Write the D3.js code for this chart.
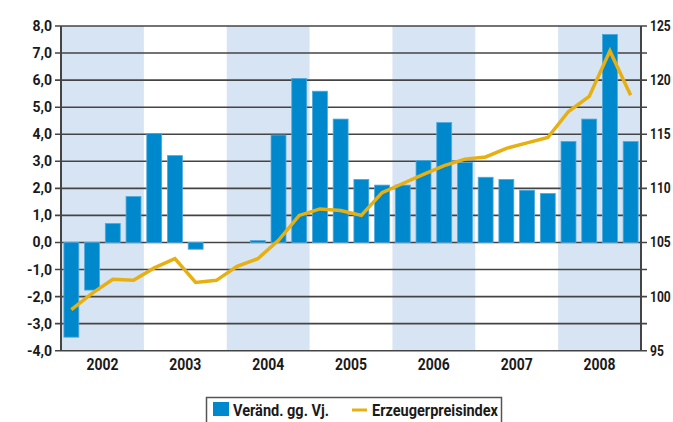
<!DOCTYPE html>
<html>
<head>
<meta charset="utf-8">
<script src="https://cdn.jsdelivr.net/npm/d3@7"></script>
<style>
  html, body { margin: 0; padding: 0; background: #fff; }
  svg { display: block; }
  svg text { font-family: Roboto, "Noto Sans", sans-serif; font-weight: bold; fill: #1a1a1a; }
</style>
</head>
<body>
<svg id="chart" width="673" height="422"></svg>
<script>
// ---- data ----
const years = ["2002", "2003", "2004", "2005", "2006", "2007", "2008"];
const quarters = [
  "2002Q1","2002Q2","2002Q3","2002Q4",
  "2003Q1","2003Q2","2003Q3","2003Q4",
  "2004Q1","2004Q2","2004Q3","2004Q4",
  "2005Q1","2005Q2","2005Q3","2005Q4",
  "2006Q1","2006Q2","2006Q3","2006Q4",
  "2007Q1","2007Q2","2007Q3","2007Q4",
  "2008Q1","2008Q2","2008Q3","2008Q4"
];
// Veränd. gg. Vj. (left axis, %)
const changeValues = [
  -3.5, -1.76, 0.70, 1.70,
  4.03, 3.21, -0.25, null,
  null, 0.07, 3.97, 6.06,
  5.59, 4.56, 2.33, 2.12,
  2.12, 3.03, 4.43, 2.96,
  2.41, 2.33, 1.93, 1.81,
  3.73, 4.56, 7.69, 3.73
];
// Erzeugerpreisindex (right axis)
const indexValues = [
  98.8, 100.3, 101.6, 101.5,
  102.65, 103.5, 101.3, 101.5,
  102.8, 103.5, 105.2, 107.5,
  108.1, 107.96, 107.5, 109.6,
  110.45, 111.3, 112.1, 112.7,
  112.9, 113.7, 114.2, 114.7,
  117.1, 118.5, 122.7, 118.6
];
const leftTicks = [-4, -3, -2, -1, 0, 1, 2, 3, 4, 5, 6, 7, 8];
const rightTicks = [95, 97.5, 100, 102.5, 105, 107.5, 110, 112.5, 115, 117.5, 120, 122.5, 125];
const seriesNames = ["Veränd. gg. Vj.", "Erzeugerpreisindex"];

// ---- layout ----
const svg = d3.select("#chart");
const plot = { left: 61, right: 641, top: 26, bottom: 350.7 };
const barColor = "#0088cc";
const lineColor = "#e6b012";
const bandColor = "#d7e4f4";
const gridColor = "#444";

function squeeze(sel, w) {
  sel.attr("textLength", w).attr("lengthAdjust", "spacingAndGlyphs");
}

const x = d3.scaleBand().domain(quarters).range([plot.left, plot.right])
  .paddingInner(0.28).paddingOuter(0.14);
const xYear = d3.scaleBand().domain(years).range([plot.left, plot.right]);
const yL = d3.scaleLinear().domain([-4, 8]).range([plot.bottom, plot.top]);
const yR = d3.scaleLinear().domain([95, 125]).range([plot.bottom, plot.top]);

// year shading
svg.append("g").selectAll("rect")
  .data(years.filter((d, i) => i % 2 === 0))
  .join("rect")
  .attr("x", d => xYear(d))
  .attr("y", plot.top)
  .attr("width", xYear.bandwidth())
  .attr("height", plot.bottom - plot.top)
  .attr("fill", bandColor);

// gridlines
svg.append("g").selectAll("line")
  .data(leftTicks)
  .join("line")
  .attr("x1", plot.left - 6)
  .attr("x2", plot.right + 6)
  .attr("y1", d => yL(d))
  .attr("y2", d => yL(d))
  .attr("stroke", gridColor)
  .attr("stroke-width", 1.6);

// bars
const barData = quarters.map((q, i) => ({ q, v: changeValues[i] })).filter(d => d.v !== null);
svg.append("g").selectAll("rect")
  .data(barData)
  .join("rect")
  .attr("x", d => x(d.q))
  .attr("width", x.bandwidth())
  .attr("y", d => yL(Math.max(0, d.v)))
  .attr("height", d => Math.abs(yL(d.v) - yL(0)))
  .attr("fill", barColor)
  .attr("stroke", "#4fa9dc")
  .attr("stroke-width", 0.8);

// line
const lineGen = d3.line()
  .x((d, i) => x(quarters[i]) + x.bandwidth() / 2)
  .y(d => yR(d));
svg.append("path")
  .datum(indexValues)
  .attr("d", lineGen)
  .attr("fill", "none")
  .attr("stroke", lineColor)
  .attr("stroke-width", 3.5)
  .attr("stroke-linejoin", "miter");

// left axis
const axL = svg.append("g")
  .attr("transform", `translate(${plot.left},0)`)
  .call(d3.axisLeft(yL).tickValues(leftTicks).tickSize(0).tickPadding(9)
    .tickFormat(d => d.toFixed(1).replace(".", ",")));
axL.select(".domain").remove();
axL.append("line").attr("x1", 0).attr("x2", 0).attr("y1", plot.top).attr("y2", plot.bottom)
  .attr("stroke", gridColor).attr("stroke-width", 2);

// right axis
const axR = svg.append("g")
  .attr("transform", `translate(${plot.right},0)`)
  .call(d3.axisRight(yR).tickValues(rightTicks).tickSize(0).tickPadding(9)
    .tickFormat(d => d % 5 === 0 ? d : ""));
axR.select(".domain").remove();
axR.append("line").attr("x1", 0).attr("x2", 0).attr("y1", plot.top).attr("y2", plot.bottom)
  .attr("stroke", gridColor).attr("stroke-width", 2);
axR.selectAll(".tick text").filter(d => d % 5 === 0)
  .each(function(d) { squeeze(d3.select(this), String(d).length * 6.9); });

// bottom axis (year labels)
const axB = svg.append("g")
  .attr("transform", `translate(0,${plot.bottom})`)
  .call(d3.axisBottom(xYear).tickSize(0).tickPadding(7));
axB.select(".domain").remove();

svg.selectAll("g").attr("font-family", null).attr("font-size", null);
svg.selectAll(".tick text").attr("fill", "#1a1a1a");
axL.selectAll(".tick text").attr("font-size", 14);
axR.selectAll(".tick text").attr("font-size", 14);
axB.selectAll(".tick text").attr("font-size", 17).call(squeeze, 32);

// legend
const lg = svg.append("g");
lg.append("rect").attr("x", 206.5).attr("y", 397.5).attr("width", 295).attr("height", 40)
  .attr("fill", "#fff").attr("stroke", "#555").attr("stroke-width", 1.5);
lg.append("rect").attr("x", 213).attr("y", 402).attr("width", 16).attr("height", 14)
  .attr("fill", barColor);
lg.append("text").attr("x", 233).attr("y", 415.5).attr("font-size", 16)
  .text(seriesNames[0]).call(squeeze, 96);
lg.append("line").attr("x1", 352).attr("x2", 367).attr("y1", 410).attr("y2", 410)
  .attr("stroke", lineColor).attr("stroke-width", 3);
lg.append("text").attr("x", 372).attr("y", 415.5).attr("font-size", 16)
  .text(seriesNames[1]).call(squeeze, 126);
</script>
</body>
</html>
